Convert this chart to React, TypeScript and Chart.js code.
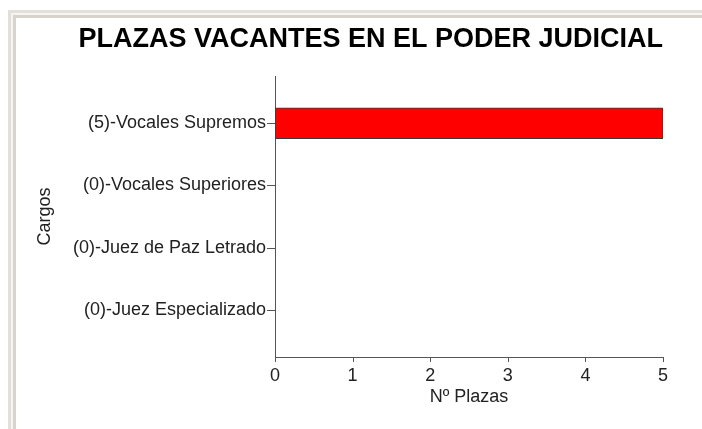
import React, { useEffect, useRef } from "react";
import { Chart, registerables } from "chart.js";

Chart.register(...registerables);

const chartTitle = "PLAZAS VACANTES EN EL PODER JUDICIAL";
const categories = [
  "(5)-Vocales Supremos",
  "(0)-Vocales Superiores",
  "(0)-Juez de Paz Letrado",
  "(0)-Juez Especializado",
];
const plazas = [5, 0, 0, 0];
const xTicks = [0, 1, 2, 3, 4, 5];
const xTitle = "Nº Plazas";
const yTitle = "Cargos";

const FONT = "'Liberation Sans', Arial, Helvetica, sans-serif";
const AXIS = "#555";
const X_TICK_LEN = 5;
const Y_TICK_LEN = 8;

const tickMarks = {
  id: "tickMarks",
  afterDraw(chart: any) {
    const ctx = chart.ctx;
    ctx.save();
    ctx.strokeStyle = AXIS;
    ctx.lineWidth = 1;
    ctx.beginPath();
    const xs = chart.scales.x;
    xs.ticks.forEach((t: any) => {
      const px = Math.round(xs.getPixelForValue(t.value)) + 0.5;
      ctx.moveTo(px, xs.top);
      ctx.lineTo(px, xs.top + X_TICK_LEN);
    });
    const ys = chart.scales.y;
    ys.ticks.forEach((t: any) => {
      const py = Math.round(ys.getPixelForValue(t.value)) + 0.5;
      ctx.moveTo(ys.right - Y_TICK_LEN, py);
      ctx.lineTo(ys.right, py);
    });
    ctx.stroke();
    ctx.restore();
  },
};

export default function App() {
  const ref = useRef<HTMLCanvasElement | null>(null);

  useEffect(() => {
    if (!ref.current) return;
    const chart = new Chart(ref.current, {
      type: "bar",
      data: {
        datasets: [
          {
            data: plazas.map((v, i) => ({ x: v, y: i })),
            backgroundColor: "#ff0000",
            borderColor: "#3a3a3a",
            borderWidth: 1,
            borderSkipped: false,
            barThickness: 31,
          },
        ],
      },
      plugins: [tickMarks],
      options: {
        animation: false,
        responsive: false,
        indexAxis: "y",
        layout: { padding: { left: 0, right: 39, top: 13, bottom: 0 } },
        plugins: {
          legend: { display: false },
          tooltip: { enabled: false },
          title: {
            display: true,
            text: chartTitle,
            align: "end",
            color: "#000",
            font: { family: FONT, size: 27, weight: "bold" },
            padding: { top: 10, bottom: 20.6 },
          },
        },
        scales: {
          x: {
            type: "linear",
            offset: false,
            min: xTicks[0],
            max: xTicks[xTicks.length - 1],
            afterBuildTicks: (s: any) => {
              s.ticks = xTicks.map((v) => ({ value: v }));
            },
            afterFit: (s: any) => {
              s.height = 72;
            },
            ticks: {
              color: "#222",
              padding: 3,
              font: { family: FONT, size: 18 },
            },
            grid: { display: false, drawTicks: true, tickLength: X_TICK_LEN },
            border: { display: true, color: AXIS, width: 1 },
            title: {
              display: true,
              text: xTitle,
              color: "#222",
              font: { family: FONT, size: 18 },
              padding: { top: 0, bottom: 21 },
            },
          },
          y: {
            type: "linear",
            reverse: true,
            offset: false,
            min: -0.76,
            max: categories.length - 1 + 0.76,
            afterBuildTicks: (s: any) => {
              s.ticks = categories.map((_, i) => ({ value: i }));
            },
            afterFit: (s: any) => {
              s.width = 275;
            },
            ticks: {
              color: "#222",
              padding: 1,
              font: { family: FONT, size: 18 },
              callback: (v: any) => categories[Math.round(Number(v))] ?? "",
            },
            grid: { display: false, drawTicks: true, tickLength: Y_TICK_LEN },
            border: { display: true, color: AXIS, width: 1 },
            title: {
              display: true,
              text: yTitle,
              color: "#222",
              font: { family: FONT, size: 18 },
              padding: { top: 34, bottom: 0 },
            },
          },
        },
      },
    } as any);
    return () => chart.destroy();
  }, []);

  return (
    <div style={{ position: "fixed", left: 0, top: 0, width: 702, height: 429, background: "#fff", overflow: "hidden" }}>
      <canvas ref={ref} width={702} height={429} style={{ position: "absolute", left: 0, top: 0, width: 702, height: 429 }} />
      <div style={{ position: "absolute", left: 8, top: 10, width: 702, height: 429, borderLeft: "3px solid #e3e0db", borderTop: "3px solid #e3e0db", boxSizing: "border-box", pointerEvents: "none" }} />
      <div style={{ position: "absolute", left: 11, top: 13, width: 702, height: 429, borderLeft: "2px solid #f5f4f1", borderTop: "2px solid #f5f4f1", boxSizing: "border-box", pointerEvents: "none" }} />
      <div style={{ position: "absolute", left: 13, top: 15, width: 702, height: 429, borderLeft: "3px solid #d8d4cd", borderTop: "3px solid #d8d4cd", boxSizing: "border-box", pointerEvents: "none" }} />
    </div>
  );
}
